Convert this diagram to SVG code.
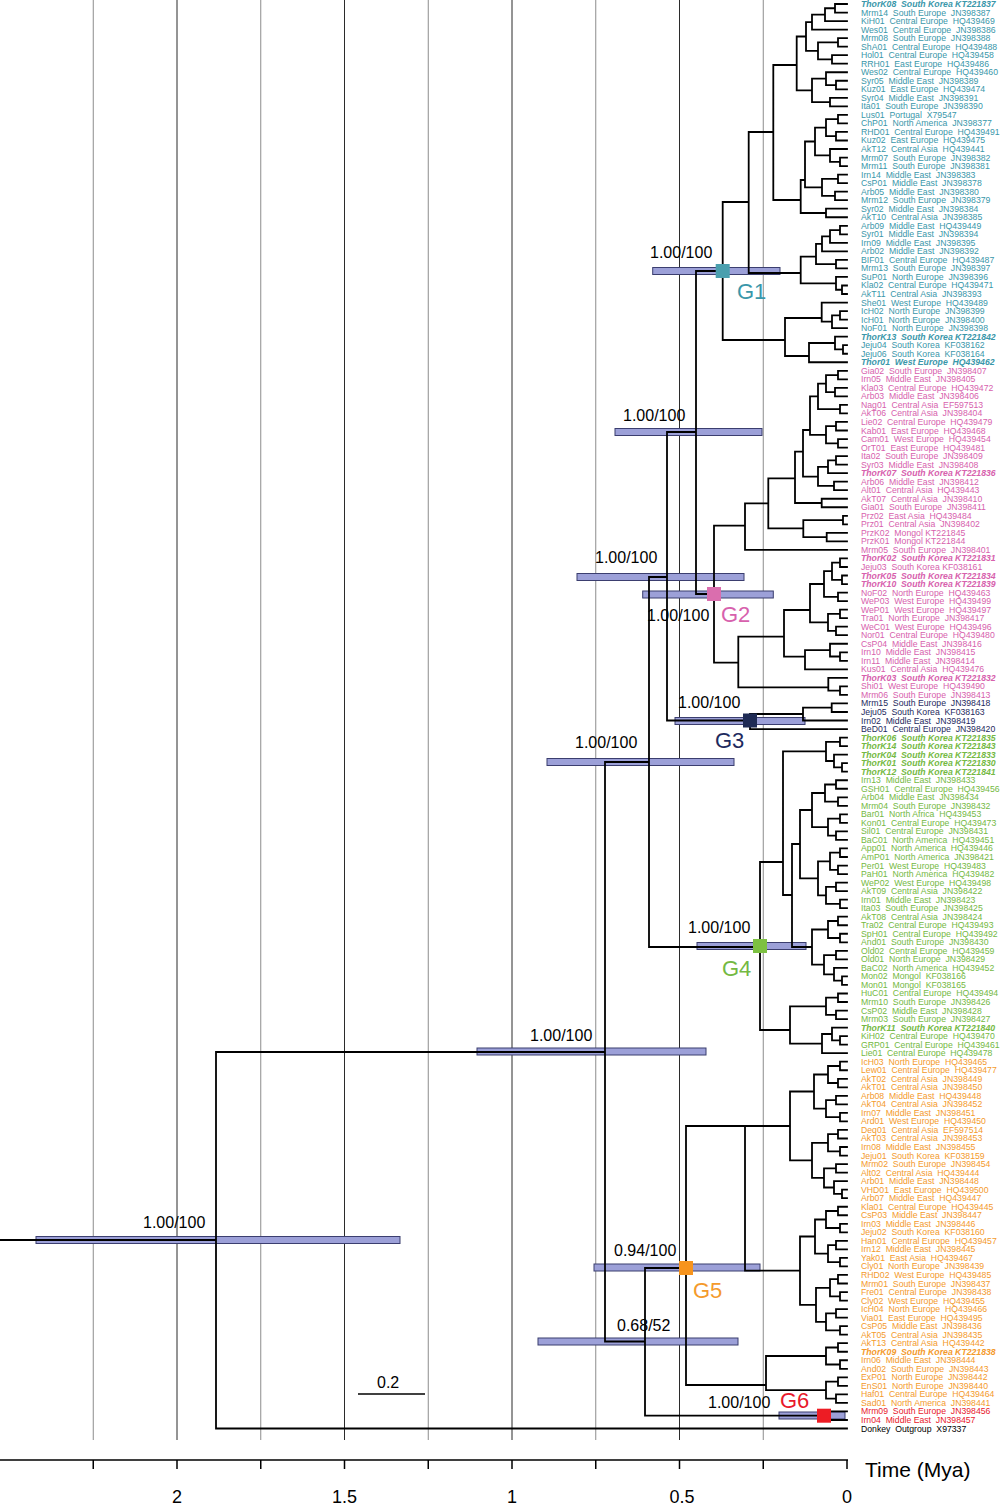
<svg xmlns="http://www.w3.org/2000/svg" width="1000" height="1504" viewBox="0 0 1000 1504">
<style>
.bg{fill:#fff}
.gl{stroke:#8c8c8c;stroke-width:1}
.gd{stroke:#2b2b2b;stroke-width:1}
.hpd{fill:#9ca0d8;stroke:#3b3e6f;stroke-width:1}
.br{fill:none;stroke:#000;stroke-width:1.8;stroke-linecap:square}
.sup{font-family:"Liberation Sans",Arial,sans-serif;font-size:16px;fill:#000}
.glab{font-family:"Liberation Sans",Arial,sans-serif;font-size:22px}
.lf{font-family:"Liberation Sans",Arial,sans-serif;font-size:8.7px;white-space:pre}
.b{font-weight:bold;font-style:italic}
.c1{fill:#3a97aa}.c2{fill:#d761ad}.c3{fill:#1e2a5e}.c4{fill:#74b943}.c5{fill:#f49a2c}.c6{fill:#e8192c}.c0{fill:#000}
.ax{stroke:#000;stroke-width:1.5;fill:none}
.axt{font-family:"Liberation Sans",Arial,sans-serif;font-size:18px;fill:#000}
</style>
<rect class="bg" x="0" y="0" width="1000" height="1504"/>
<g id="grid">
<line class="gl" x1="93.25" y1="0" x2="93.25" y2="1440"/>
<line class="gd" x1="177" y1="0" x2="177" y2="1440"/>
<line class="gl" x1="260.75" y1="0" x2="260.75" y2="1440"/>
<line class="gd" x1="344.5" y1="0" x2="344.5" y2="1440"/>
<line class="gl" x1="428.25" y1="0" x2="428.25" y2="1440"/>
<line class="gd" x1="512" y1="0" x2="512" y2="1440"/>
<line class="gl" x1="595.75" y1="0" x2="595.75" y2="1440"/>
<line class="gd" x1="679.5" y1="0" x2="679.5" y2="1440"/>
<line class="gl" x1="763.25" y1="0" x2="763.25" y2="1440"/>
</g>
<g id="hpd-bars">
<rect class="hpd" x="36" y="1236.5" width="364" height="7"/>
<rect class="hpd" x="477" y="1048" width="229" height="7"/>
<rect class="hpd" x="547" y="758.5" width="187" height="7"/>
<rect class="hpd" x="577" y="573.5" width="167" height="7"/>
<rect class="hpd" x="615" y="428.5" width="147" height="7"/>
<rect class="hpd" x="652.7" y="267.5" width="127.3" height="7"/>
<rect class="hpd" x="642.7" y="591" width="130.6" height="7"/>
<rect class="hpd" x="675" y="717.5" width="130" height="7"/>
<rect class="hpd" x="697" y="942.5" width="109" height="7"/>
<rect class="hpd" x="594" y="1264" width="166" height="7"/>
<rect class="hpd" x="538" y="1338" width="200" height="7"/>
<rect class="hpd" x="779" y="1412" width="66" height="7"/>
</g>
<g id="connectors">
<path class="br" d="M216,1240H0 M605,1052H216V1428.51H847 M649,762H605V1341.5H645 M667,577H649V947H760 M696,432H667V720.5H750 M722.7,271H696V594H714 M686,1268H645V1415.7H824"/>
<path id="clade-G1" class="br" d="M847,4H835V12.53H847 M835,8.27H825V21.06H847 M825,14.66H812V29.59H847 M847,38.12H838V46.65H847 M847,55.18H832V63.71H847 M838,42.39H818V59.45H832 M812,22.13H806V50.92H818 M847,80.77H836V89.3H847 M847,72.24H826V85.04H836 M847,97.83H830V106.36H847 M826,78.64H812V102.1H830 M806,36.5H796.7V90.4H812 M847,114.89H838V123.42H847 M847,131.95H836V140.48H847 M838,119.16H826V136.2H836 M847,157.54H840V166.07H847 M847,149.01H830V161.8H840 M826,127.7H815V155.4H830 M847,174.6H838V183.13H847 M847,191.66H835V200.19H847 M838,178.87H822V195.93H835 M815,141.5H805V187.4H822 M847,208.72H826V217.25H847 M805,180H800.7V213H826 M796.7,65H773.3V200H800.7 M847,225.78H840V234.31H847 M840,230.05H830V242.84H847 M830,236.4H822V251.37H847 M847,259.9H836V268.43H847 M822,243.9H816V264.17H836 M847,285.49H842V294.02H847 M847,276.96H836V289.76H842 M816,256.7H800.7V283.4H836 M773.3,132H748.7V273H800.7 M847,311.08H840V319.61H847 M840,315.35H832V328.14H847 M847,302.55H821.7V321.7H832 M847,345.2H843V353.73H847 M847,336.67H835V349.47H843 M835,343H809V362.26H847 M821.7,318H785V356H809 M748.7,202H722.7V340H785"/>
<path id="clade-G2" class="br" d="M847,370.79H838V379.32H847 M847,387.85H835V396.38H847 M838,375.06H826V392.1H835 M847,404.91H840V413.44H847 M826,383.6H818V409.2H840 M847,421.97H836V430.5H847 M847,439.03H838V447.56H847 M836,426.2H826V443.3H838 M818,396.4H810V434.8H826 M847,456.09H836V464.62H847 M836,460.36H828V473.15H847 M847,481.68H834V490.21H847 M828,466.8H818V485.95H834 M810,430H803V476.7H818 M847,498.74H821.7V507.27H847 M803,451.7H795V503H821.7 M847,515.8H843V524.33H847 M847,532.86H826.7V541.39H847 M843,520.07H803.3V537.1H826.7 M795,478.3H768.3V528.3H803.3 M768.3,503.3H745V549.92H847 M847,558.45H840V566.98H847 M847,575.51H842V584.04H847 M840,562.7H832V579.8H842 M847,592.57H838V601.1H847 M832,571.2H824V596.8H838 M847,609.63H840V618.16H847 M847,626.69H836V635.22H847 M840,613.9H828V630.96H836 M824,584H810V622.4H828 M847,652.28H840V660.81H847 M847,643.75H830V656.5H840 M830,650.1H805V669.34H847 M810,610H784V656.7H805 M847,686.4H840V694.93H847 M847,677.87H828.3V690.67H840 M784,636.7H738.3V687.3H828.3 M745,525.7H714V662.7H738.3"/>
<path id="clade-G3" class="br" d="M847,703.46H831.7V711.99H847 M831.7,707.7H803V720.52H847 M803,714H750V729.05H847"/>
<path id="clade-G4" class="br" d="M847,737.58H840V746.11H847 M847,763.17H842V771.7H847 M847,754.64H834V767.4H842 M840,741.8H826V761H834 M847,780.23H836V788.76H847 M847,797.29H838V805.82H847 M836,784.5H825V801.56H838 M847,814.35H840V822.88H847 M847,831.41H836V839.94H847 M840,818.6H828V835.7H836 M825,793H812V827.2H828 M847,848.47H840V857H847 M847,865.53H838V874.06H847 M840,852.7H830V869.8H838 M847,882.59H836V891.12H847 M847,899.65H840V908.18H847 M836,886.86H826V903.9H840 M830,861.3H818V895.4H826 M812,810H800V878.3H818 M847,916.71H838V925.24H847 M847,933.77H840V942.3H847 M838,921H828V938H840 M847,950.83H836V959.36H847 M847,976.42H842V984.95H847 M847,967.89H834V980.7H842 M836,955.1H824V974.3H834 M828,929.5H812V964.7H824 M800,844H792V947H812 M826,751.4H783V895H792 M847,993.48H838V1002.01H847 M847,1010.54H836V1019.07H847 M838,997.7H826V1014.8H836 M847,1036.13H840V1044.66H847 M847,1027.6H832V1040.4H840 M832,1034H822V1053.19H847 M826,1006.3H790V1043.6H822 M783,862H760V1030H790"/>
<path id="clade-G5" class="br" d="M847,1061.72H840V1070.25H847 M847,1078.78H838V1087.31H847 M840,1066H828V1083H838 M847,1095.84H836V1104.37H847 M847,1112.9H840V1121.43H847 M836,1100.1H826V1117.2H840 M828,1074.5H814V1108.6H826 M847,1129.96H838V1138.49H847 M847,1147.02H840V1155.55H847 M838,1134.2H828V1151.3H840 M847,1164.08H836V1172.61H847 M847,1189.67H842V1198.2H847 M847,1181.14H834V1193.9H842 M836,1168.3H824V1187.5H834 M828,1142.8H812V1177.9H824 M814,1091.5H790V1160.3H812 M847,1206.73H838V1215.26H847 M847,1223.79H840V1232.32H847 M838,1211H826V1228H840 M847,1240.85H836V1249.38H847 M847,1257.91H840V1266.44H847 M836,1245.1H828V1262.2H840 M826,1219.5H815V1253.6H828 M847,1274.97H838V1283.5H847 M847,1292.03H840V1300.56H847 M838,1279.2H830V1296.3H840 M847,1309.09H836V1317.62H847 M847,1326.15H840V1334.68H847 M836,1313.4H826V1330.4H840 M830,1287.8H816V1321.9H826 M815,1236.5H800V1304.8H816 M790,1126H745V1270.7H800 M847,1343.21H838V1351.74H847 M847,1360.27H840V1368.8H847 M838,1347.5H826V1364.5H840 M847,1377.33H838V1385.86H847 M847,1394.39H836V1402.92H847 M838,1381.6H826V1398.7H836 M826,1356H766V1390.1H826 M745,1126H686V1385H766"/>
<path id="clade-G6" class="br" d="M847,1411.45H824V1419.98H847"/>
</g>
<g id="support-labels">
<text class="sup" x="143" y="1228">1.00/100</text>
<text class="sup" x="530" y="1041">1.00/100</text>
<text class="sup" x="575" y="748">1.00/100</text>
<text class="sup" x="595" y="563">1.00/100</text>
<text class="sup" x="623" y="421">1.00/100</text>
<text class="sup" x="650" y="258">1.00/100</text>
<text class="sup" x="647" y="621">1.00/100</text>
<text class="sup" x="678" y="708">1.00/100</text>
<text class="sup" x="688" y="933">1.00/100</text>
<text class="sup" x="614" y="1256">0.94/100</text>
<text class="sup" x="617" y="1331">0.68/52</text>
<text class="sup" x="708" y="1408">1.00/100</text>
</g>
<g id="node-G1"><rect x="715.7" y="264" width="14" height="14" fill="#4a9fae"/><text class="glab c1" x="737" y="299">G1</text></g>
<g id="node-G2"><rect x="707" y="587" width="14" height="14" fill="#da6eae"/><text class="glab c2" x="721" y="622">G2</text></g>
<g id="node-G3"><rect x="743" y="713.5" width="14" height="14" fill="#1f2b55"/><text class="glab c3" x="715" y="748">G3</text></g>
<g id="node-G4"><rect x="753" y="939" width="14" height="14" fill="#7dc142"/><text class="glab c4" x="722" y="976">G4</text></g>
<g id="node-G5"><rect x="679" y="1261" width="14" height="14" fill="#f7941d"/><text class="glab c5" x="693" y="1298">G5</text></g>
<g id="node-G6"><rect x="817" y="1408.7" width="14" height="14" fill="#ed1c24"/><text class="glab c6" x="780" y="1408">G6</text></g>
<g id="leaves" class="lf">
<text id="L1" class="c1 b" x="861" y="7">ThorK08&#160; South Korea KT221837</text>
<text id="L2" class="c1" x="861" y="15.53">Mrm14&#160; South Europe&#160; JN398387</text>
<text id="L3" class="c1" x="861" y="24.06">KiH01&#160; Central Europe&#160; HQ439469</text>
<text id="L4" class="c1" x="861" y="32.59">Wes01&#160; Central Europe&#160; JN398386</text>
<text id="L5" class="c1" x="861" y="41.12">Mrm08&#160; South Europe&#160; JN398388</text>
<text id="L6" class="c1" x="861" y="49.65">ShA01&#160; Central Europe&#160; HQ439488</text>
<text id="L7" class="c1" x="861" y="58.18">Hol01&#160; Central Europe&#160; HQ439458</text>
<text id="L8" class="c1" x="861" y="66.71">RRH01&#160; East Europe&#160; HQ439486</text>
<text id="L9" class="c1" x="861" y="75.24">Wes02&#160; Central Europe&#160; HQ439460</text>
<text id="L10" class="c1" x="861" y="83.77">Syr05&#160; Middle East&#160; JN398389</text>
<text id="L11" class="c1" x="861" y="92.3">Kuz01&#160; East Europe&#160; HQ439474</text>
<text id="L12" class="c1" x="861" y="100.83">Syr04&#160; Middle East&#160; JN398391</text>
<text id="L13" class="c1" x="861" y="109.36">Ita01&#160; South Europe&#160; JN398390</text>
<text id="L14" class="c1" x="861" y="117.89">Lus01&#160; Portugal&#160; X79547</text>
<text id="L15" class="c1" x="861" y="126.42">ChP01&#160; North America&#160; JN398377</text>
<text id="L16" class="c1" x="861" y="134.95">RHD01&#160; Central Europe&#160; HQ439491</text>
<text id="L17" class="c1" x="861" y="143.48">Kuz02&#160; East Europe&#160; HQ439475</text>
<text id="L18" class="c1" x="861" y="152.01">AkT12&#160; Central Asia&#160; HQ439441</text>
<text id="L19" class="c1" x="861" y="160.54">Mrm07&#160; South Europe&#160; JN398382</text>
<text id="L20" class="c1" x="861" y="169.07">Mrm11&#160; South Europe&#160; JN398381</text>
<text id="L21" class="c1" x="861" y="177.6">Irn14&#160; Middle East&#160; JN398383</text>
<text id="L22" class="c1" x="861" y="186.13">CsP01&#160; Middle East&#160; JN398378</text>
<text id="L23" class="c1" x="861" y="194.66">Arb05&#160; Middle East&#160; JN398380</text>
<text id="L24" class="c1" x="861" y="203.19">Mrm12&#160; South Europe&#160; JN398379</text>
<text id="L25" class="c1" x="861" y="211.72">Syr02&#160; Middle East&#160; JN398384</text>
<text id="L26" class="c1" x="861" y="220.25">AkT10&#160; Central Asia&#160; JN398385</text>
<text id="L27" class="c1" x="861" y="228.78">Arb09&#160; Middle East&#160; HQ439449</text>
<text id="L28" class="c1" x="861" y="237.31">Syr01&#160; Middle East&#160; JN398394</text>
<text id="L29" class="c1" x="861" y="245.84">Irn09&#160; Middle East&#160; JN398395</text>
<text id="L30" class="c1" x="861" y="254.37">Arb02&#160; Middle East&#160; JN398392</text>
<text id="L31" class="c1" x="861" y="262.9">BIF01&#160; Central Europe&#160; HQ439487</text>
<text id="L32" class="c1" x="861" y="271.43">Mrm13&#160; South Europe&#160; JN398397</text>
<text id="L33" class="c1" x="861" y="279.96">SuP01&#160; North Europe&#160; JN398396</text>
<text id="L34" class="c1" x="861" y="288.49">Kla02&#160; Central Europe&#160; HQ439471</text>
<text id="L35" class="c1" x="861" y="297.02">AkT11&#160; Central Asia&#160; JN398393</text>
<text id="L36" class="c1" x="861" y="305.55">She01&#160; West Europe&#160; HQ439489</text>
<text id="L37" class="c1" x="861" y="314.08">IcH02&#160; North Europe&#160; JN398399</text>
<text id="L38" class="c1" x="861" y="322.61">IcH01&#160; North Europe&#160; JN398400</text>
<text id="L39" class="c1" x="861" y="331.14">NoF01&#160; North Europe&#160; JN398398</text>
<text id="L40" class="c1 b" x="861" y="339.67">ThorK13&#160; South Korea KT221842</text>
<text id="L41" class="c1" x="861" y="348.2">Jeju04&#160; South Korea&#160; KF038162</text>
<text id="L42" class="c1" x="861" y="356.73">Jeju06&#160; South Korea&#160; KF038164</text>
<text id="L43" class="c1 b" x="861" y="365.26">Thor01&#160; West Europe&#160; HQ439462</text>
<text id="L44" class="c2" x="861" y="373.79">Gia02&#160; South Europe&#160; JN398407</text>
<text id="L45" class="c2" x="861" y="382.32">Irn05&#160; Middle East&#160; JN398405</text>
<text id="L46" class="c2" x="861" y="390.85">Kla03&#160; Central Europe&#160; HQ439472</text>
<text id="L47" class="c2" x="861" y="399.38">Arb03&#160; Middle East&#160; JN398406</text>
<text id="L48" class="c2" x="861" y="407.91">Nag01&#160; Central Asia&#160; EF597513</text>
<text id="L49" class="c2" x="861" y="416.44">AkT06&#160; Central Asia&#160; JN398404</text>
<text id="L50" class="c2" x="861" y="424.97">Lie02&#160; Central Europe&#160; HQ439479</text>
<text id="L51" class="c2" x="861" y="433.5">Kab01&#160; East Europe&#160; HQ439468</text>
<text id="L52" class="c2" x="861" y="442.03">Cam01&#160; West Europe&#160; HQ439454</text>
<text id="L53" class="c2" x="861" y="450.56">OrT01&#160; East Europe&#160; HQ439481</text>
<text id="L54" class="c2" x="861" y="459.09">Ita02&#160; South Europe&#160; JN398409</text>
<text id="L55" class="c2" x="861" y="467.62">Syr03&#160; Middle East&#160; JN398408</text>
<text id="L56" class="c2 b" x="861" y="476.15">ThorK07&#160; South Korea KT221836</text>
<text id="L57" class="c2" x="861" y="484.68">Arb06&#160; Middle East&#160; JN398412</text>
<text id="L58" class="c2" x="861" y="493.21">Alt01&#160; Central Asia&#160; HQ439443</text>
<text id="L59" class="c2" x="861" y="501.74">AkT07&#160; Central Asia&#160; JN398410</text>
<text id="L60" class="c2" x="861" y="510.27">Gia01&#160; South Europe&#160; JN398411</text>
<text id="L61" class="c2" x="861" y="518.8">Prz02&#160; East Asia&#160; HQ439484</text>
<text id="L62" class="c2" x="861" y="527.33">Prz01&#160; Central Asia&#160; JN398402</text>
<text id="L63" class="c2" x="861" y="535.86">PrzK02&#160; Mongol KT221845</text>
<text id="L64" class="c2" x="861" y="544.39">PrzK01&#160; Mongol KT221844</text>
<text id="L65" class="c2" x="861" y="552.92">Mrm05&#160; South Europe&#160; JN398401</text>
<text id="L66" class="c2 b" x="861" y="561.45">ThorK02&#160; South Korea KT221831</text>
<text id="L67" class="c2" x="861" y="569.98">Jeju03&#160; South Korea KF038161</text>
<text id="L68" class="c2 b" x="861" y="578.51">ThorK05&#160; South Korea KT221834</text>
<text id="L69" class="c2 b" x="861" y="587.04">ThorK10&#160; South Korea KT221839</text>
<text id="L70" class="c2" x="861" y="595.57">NoF02&#160; North Europe&#160; HQ439463</text>
<text id="L71" class="c2" x="861" y="604.1">WeP03&#160; West Europe&#160; HQ439499</text>
<text id="L72" class="c2" x="861" y="612.63">WeP01&#160; West Europe&#160; HQ439497</text>
<text id="L73" class="c2" x="861" y="621.16">Tra01&#160; North Europe&#160; JN398417</text>
<text id="L74" class="c2" x="861" y="629.69">WeC01&#160; West Europe&#160; HQ439496</text>
<text id="L75" class="c2" x="861" y="638.22">Nor01&#160; Central Europe&#160; HQ439480</text>
<text id="L76" class="c2" x="861" y="646.75">CsP04&#160; Middle East&#160; JN398416</text>
<text id="L77" class="c2" x="861" y="655.28">Irn10&#160; Middle East&#160; JN398415</text>
<text id="L78" class="c2" x="861" y="663.81">Irn11&#160; Middle East&#160; JN398414</text>
<text id="L79" class="c2" x="861" y="672.34">Kus01&#160; Central Asia&#160; HQ439476</text>
<text id="L80" class="c2 b" x="861" y="680.87">ThorK03&#160; South Korea KT221832</text>
<text id="L81" class="c2" x="861" y="689.4">Shi01&#160; West Europe&#160; HQ439490</text>
<text id="L82" class="c2" x="861" y="697.93">Mrm06&#160; South Europe&#160; JN398413</text>
<text id="L83" class="c3" x="861" y="706.46">Mrm15&#160; South Europe&#160; JN398418</text>
<text id="L84" class="c3" x="861" y="714.99">Jeju05&#160; South Korea&#160; KF038163</text>
<text id="L85" class="c3" x="861" y="723.52">Irn02&#160; Middle East&#160; JN398419</text>
<text id="L86" class="c3" x="861" y="732.05">BeD01&#160; Central Europe&#160; JN398420</text>
<text id="L87" class="c4 b" x="861" y="740.58">ThorK06&#160; South Korea KT221835</text>
<text id="L88" class="c4 b" x="861" y="749.11">ThorK14&#160; South Korea KT221843</text>
<text id="L89" class="c4 b" x="861" y="757.64">ThorK04&#160; South Korea KT221833</text>
<text id="L90" class="c4 b" x="861" y="766.17">ThorK01&#160; South Korea KT221830</text>
<text id="L91" class="c4 b" x="861" y="774.7">ThorK12&#160; South Korea KT221841</text>
<text id="L92" class="c4" x="861" y="783.23">Irn13&#160; Middle East&#160; JN398433</text>
<text id="L93" class="c4" x="861" y="791.76">GSH01&#160; Central Europe&#160; HQ439456</text>
<text id="L94" class="c4" x="861" y="800.29">Arb04&#160; Middle East&#160; JN398434</text>
<text id="L95" class="c4" x="861" y="808.82">Mrm04&#160; South Europe&#160; JN398432</text>
<text id="L96" class="c4" x="861" y="817.35">Bar01&#160; North Africa&#160; HQ439453</text>
<text id="L97" class="c4" x="861" y="825.88">Kon01&#160; Central Europe&#160; HQ439473</text>
<text id="L98" class="c4" x="861" y="834.41">Sil01&#160; Central Europe&#160; JN398431</text>
<text id="L99" class="c4" x="861" y="842.94">BaC01&#160; North America&#160; HQ439451</text>
<text id="L100" class="c4" x="861" y="851.47">App01&#160; North America&#160; HQ439446</text>
<text id="L101" class="c4" x="861" y="860">AmP01&#160; North America&#160; JN398421</text>
<text id="L102" class="c4" x="861" y="868.53">Per01&#160; West Europe&#160; HQ439483</text>
<text id="L103" class="c4" x="861" y="877.06">PaH01&#160; North America&#160; HQ439482</text>
<text id="L104" class="c4" x="861" y="885.59">WeP02&#160; West Europe&#160; HQ439498</text>
<text id="L105" class="c4" x="861" y="894.12">AkT09&#160; Central Asia&#160; JN398422</text>
<text id="L106" class="c4" x="861" y="902.65">Irn01&#160; Middle East&#160; JN398423</text>
<text id="L107" class="c4" x="861" y="911.18">Ita03&#160; South Europe&#160; JN398425</text>
<text id="L108" class="c4" x="861" y="919.71">AkT08&#160; Central Asia&#160; JN398424</text>
<text id="L109" class="c4" x="861" y="928.24">Tra02&#160; Central Europe&#160; HQ439493</text>
<text id="L110" class="c4" x="861" y="936.77">SpH01&#160; Central Europe&#160; HQ439492</text>
<text id="L111" class="c4" x="861" y="945.3">And01&#160; South Europe&#160; JN398430</text>
<text id="L112" class="c4" x="861" y="953.83">Old02&#160; Central Europe&#160; HQ439459</text>
<text id="L113" class="c4" x="861" y="962.36">Old01&#160; North Europe&#160; JN398429</text>
<text id="L114" class="c4" x="861" y="970.89">BaC02&#160; North America&#160; HQ439452</text>
<text id="L115" class="c4" x="861" y="979.42">Mon02&#160; Mongol&#160; KF038166</text>
<text id="L116" class="c4" x="861" y="987.95">Mon01&#160; Mongol&#160; KF038165</text>
<text id="L117" class="c4" x="861" y="996.48">HuC01&#160; Central Europe&#160; HQ439494</text>
<text id="L118" class="c4" x="861" y="1005.01">Mrm10&#160; South Europe&#160; JN398426</text>
<text id="L119" class="c4" x="861" y="1013.54">CsP02&#160; Middle East&#160; JN398428</text>
<text id="L120" class="c4" x="861" y="1022.07">Mrm03&#160; South Europe&#160; JN398427</text>
<text id="L121" class="c4 b" x="861" y="1030.6">ThorK11&#160; South Korea KT221840</text>
<text id="L122" class="c4" x="861" y="1039.13">KiH02&#160; Central Europe&#160; HQ439470</text>
<text id="L123" class="c4" x="861" y="1047.66">GRP01&#160; Central Europe&#160; HQ439461</text>
<text id="L124" class="c4" x="861" y="1056.19">Lie01&#160; Central Europe&#160; HQ439478</text>
<text id="L125" class="c5" x="861" y="1064.72">IcH03&#160; North Europe&#160; HQ439465</text>
<text id="L126" class="c5" x="861" y="1073.25">Lew01&#160; Central Europe&#160; HQ439477</text>
<text id="L127" class="c5" x="861" y="1081.78">AkT02&#160; Central Asia&#160; JN398449</text>
<text id="L128" class="c5" x="861" y="1090.31">AkT01&#160; Central Asia&#160; JN398450</text>
<text id="L129" class="c5" x="861" y="1098.84">Arb08&#160; Middle East&#160; HQ439448</text>
<text id="L130" class="c5" x="861" y="1107.37">AkT04&#160; Central Asia&#160; JN398452</text>
<text id="L131" class="c5" x="861" y="1115.9">Irn07&#160; Middle East&#160; JN398451</text>
<text id="L132" class="c5" x="861" y="1124.43">Ard01&#160; West Europe&#160; HQ439450</text>
<text id="L133" class="c5" x="861" y="1132.96">Deq01&#160; Central Asia&#160; EF597514</text>
<text id="L134" class="c5" x="861" y="1141.49">AkT03&#160; Central Asia&#160; JN398453</text>
<text id="L135" class="c5" x="861" y="1150.02">Irn08&#160; Middle East&#160; JN398455</text>
<text id="L136" class="c5" x="861" y="1158.55">Jeju01&#160; South Korea&#160; KF038159</text>
<text id="L137" class="c5" x="861" y="1167.08">Mrm02&#160; South Europe&#160; JN398454</text>
<text id="L138" class="c5" x="861" y="1175.61">Alt02&#160; Central Asia&#160; HQ439444</text>
<text id="L139" class="c5" x="861" y="1184.14">Arb01&#160; Middle East&#160; JN398448</text>
<text id="L140" class="c5" x="861" y="1192.67">VHD01&#160; East Europe&#160; HQ439500</text>
<text id="L141" class="c5" x="861" y="1201.2">Arb07&#160; Middle East&#160; HQ439447</text>
<text id="L142" class="c5" x="861" y="1209.73">Kla01&#160; Central Europe&#160; HQ439445</text>
<text id="L143" class="c5" x="861" y="1218.26">CsP03&#160; Middle East&#160; JN398447</text>
<text id="L144" class="c5" x="861" y="1226.79">Irn03&#160; Middle East&#160; JN398446</text>
<text id="L145" class="c5" x="861" y="1235.32">Jeju02&#160; South Korea&#160; KF038160</text>
<text id="L146" class="c5" x="861" y="1243.85">Han01&#160; Central Europe&#160; HQ439457</text>
<text id="L147" class="c5" x="861" y="1252.38">Irn12&#160; Middle East&#160; JN398445</text>
<text id="L148" class="c5" x="861" y="1260.91">Yak01&#160; East Asia&#160; HQ439467</text>
<text id="L149" class="c5" x="861" y="1269.44">Cly01&#160; North Europe&#160; JN398439</text>
<text id="L150" class="c5" x="861" y="1277.97">RHD02&#160; West Europe&#160; HQ439485</text>
<text id="L151" class="c5" x="861" y="1286.5">Mrm01&#160; South Europe&#160; JN398437</text>
<text id="L152" class="c5" x="861" y="1295.03">Fre01&#160; Central Europe&#160; JN398438</text>
<text id="L153" class="c5" x="861" y="1303.56">Cly02&#160; West Europe&#160; HQ439455</text>
<text id="L154" class="c5" x="861" y="1312.09">IcH04&#160; North Europe&#160; HQ439466</text>
<text id="L155" class="c5" x="861" y="1320.62">Via01&#160; East Europe&#160; HQ439495</text>
<text id="L156" class="c5" x="861" y="1329.15">CsP05&#160; Middle East&#160; JN398436</text>
<text id="L157" class="c5" x="861" y="1337.68">AkT05&#160; Central Asia&#160; JN398435</text>
<text id="L158" class="c5" x="861" y="1346.21">AkT13&#160; Central Asia&#160; HQ439442</text>
<text id="L159" class="c5 b" x="861" y="1354.74">ThorK09&#160; South Korea KT221838</text>
<text id="L160" class="c5" x="861" y="1363.27">Irn06&#160; Middle East&#160; JN398444</text>
<text id="L161" class="c5" x="861" y="1371.8">And02&#160; South Europe&#160; JN398443</text>
<text id="L162" class="c5" x="861" y="1380.33">ExP01&#160; North Europe&#160; JN398442</text>
<text id="L163" class="c5" x="861" y="1388.86">EnS01&#160; North Europe&#160; JN398440</text>
<text id="L164" class="c5" x="861" y="1397.39">Haf01&#160; Central Europe&#160; HQ439464</text>
<text id="L165" class="c5" x="861" y="1405.92">Sad01&#160; North America&#160; JN398441</text>
<text id="L166" class="c6" x="861" y="1414.45">Mrm09&#160; South Europe&#160; JN398456</text>
<text id="L167" class="c6" x="861" y="1422.98">Irn04&#160; Middle East&#160; JN398457</text>
<text id="L168" class="c0" x="861" y="1431.51">Donkey&#160; Outgroup&#160; X97337</text>
</g>
<g id="scale-bar">
<line class="ax" x1="358" y1="1394" x2="425" y2="1394"/>
<text class="sup" x="377" y="1388">0.2</text>
</g>
<g id="time-axis">
<path class="ax" d="M0,1460H848 M93.25,1460V1469 M177,1460V1469 M260.75,1460V1469 M344.5,1460V1469 M428.25,1460V1469 M512,1460V1469 M595.75,1460V1469 M679.5,1460V1469 M763.25,1460V1469 M847,1460V1469"/>
<text class="axt" x="177" y="1503" text-anchor="middle">2</text>
<text class="axt" x="344.5" y="1503" text-anchor="middle">1.5</text>
<text class="axt" x="512" y="1503" text-anchor="middle">1</text>
<text class="axt" x="682" y="1503" text-anchor="middle">0.5</text>
<text class="axt" x="847" y="1503" text-anchor="middle">0</text>
<text class="axt" x="865" y="1477" style="font-size:21px">Time (Mya)</text>
</g>
</svg>
